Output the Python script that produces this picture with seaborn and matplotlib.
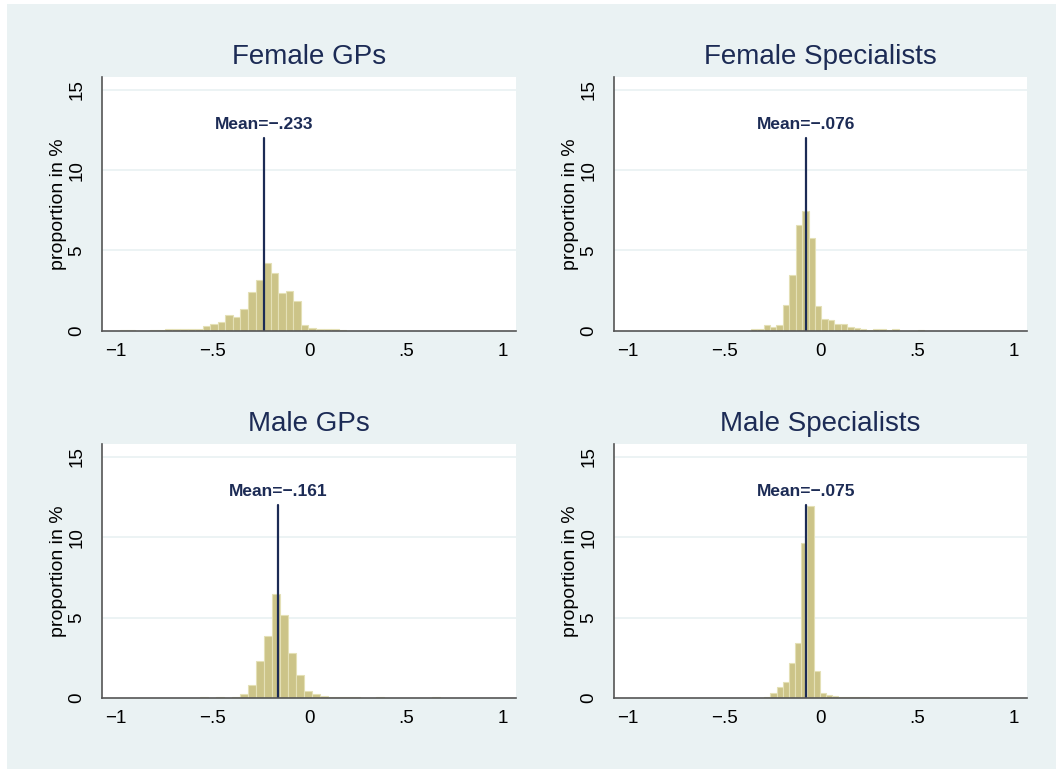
import numpy as np
import pandas as pd
import seaborn as sns
import matplotlib.pyplot as plt
from matplotlib.patches import Rectangle

# panel order: top-left, top-right, bottom-left, bottom-right
titles = ["Female GPs", "Female Specialists", "Male GPs", "Male Specialists"]
means = [-0.233, -0.076, -0.161, -0.075]

# histogram bins (left edge of first bin, bin width)
bin_starts = [-0.979, -0.3624, -0.566, -0.292]
bin_widths = [0.039, 0.0333, 0.0414, 0.0319]

# bar heights, proportion in %
female_gp = [0.04, 0.04, 0, 0, 0.04, 0.06, 0.08, 0.08, 0.125, 0.08,
             0.1, 0.29, 0.44, 0.54, 0.98, 0.875, 1.33, 2.42, 3.17, 4.23,
             3.58, 2.35, 2.46, 1.83, 0.35, 0.17, 0.1, 0.08, 0.1, 0.04]
female_spec = [0.08, 0.12, 0.375, 0.21, 0.375, 1.6, 3.48, 6.58, 7.48, 5.75,
               1.54, 0.75, 0.65, 0.40, 0.44, 0.25, 0.19, 0.12, 0.06, 0.1,
               0.1, 0.02, 0.1, 0, 0, 0, 0.06]
male_gp = [0.04, 0, 0.04, 0, 0.04, 0.23, 0.79, 2.29, 3.83, 6.44,
           5.15, 2.79, 1.44, 0.44, 0.25, 0.125, 0.06, 0.04, 0.04, 0.04,
           0, 0, 0.04, 0, 0, 0, 0, 0, 0, 0.04]
male_spec = [0.06, 0.29, 0.69, 1.02, 2.15, 3.44, 9.65, 11.94, 1.71, 0.33,
             0.19, 0.10, 0.06, 0.06, 0.05, 0.05, 0.04, 0.03, 0.03, 0.03,
             0.03, 0.03, 0.03, 0.03, 0, 0, 0, 0, 0, 0, 0.03]
heights = [female_gp, female_spec, male_gp, male_spec]

xticks = [-1, -0.5, 0, 0.5, 1]
xticklabels = ["\u22121", "\u2212.5", "0", ".5", "1"]
yticks = [0, 5, 10, 15]
yticklabels = ["0", "5", "10", "15"]

navy = "#1c2b55"
bg = "#eaf2f3"

sns.set_theme(style="white")
plt.rcParams["font.family"] = ["Liberation Sans", "DejaVu Sans"]

W, H = 1056, 769
fig = plt.figure(figsize=(W / 100, H / 100), dpi=100, facecolor="white")
fig.patches.append(Rectangle((7 / W, 0), 1, 1 - 4 / H, transform=fig.transFigure,
                             facecolor=bg, edgecolor="none", zorder=-10))

# axes boxes in pixels: left, top, right, bottom
boxes = [(102, 77, 516, 330.7), (614, 77, 1027, 330.7),
         (102, 444, 516, 698), (614, 444, 1027, 698)]

for i in range(4):
    l, t, r, b = boxes[i]
    ax = fig.add_axes([l / W, 1 - b / H, (r - l) / W, (b - t) / H])
    ax.set_facecolor("white")

    h = heights[i]
    edges = [bin_starts[i] + bin_widths[i] * k for k in range(len(h) + 1)]
    centers = [(edges[k] + edges[k + 1]) / 2 for k in range(len(h))]
    df = pd.DataFrame({"value": centers, "pct": h})
    sns.histplot(data=df, x="value", weights="pct", bins=edges, ax=ax,
                 color="#ccc488", edgecolor="#e4e0b6", linewidth=0.8,
                 alpha=1, zorder=2)

    for g in yticks[1:]:
        ax.axhline(g, color=bg, lw=1.3, zorder=1)

    m = means[i]
    ax.plot([m, m], [0, 12], color=navy, lw=1.6, zorder=3)
    lab = "Mean=" + f"{m:.3f}".replace("0.", ".").replace("-", "\u2212")
    ax.text(m, 12.85, lab, ha="center", va="center", fontsize=12.5,
            fontweight="bold", color=navy)

    ax.set_xlim(-1.07, 1.068)
    ax.set_ylim(0, 15.8)
    ax.set_xticks(xticks)
    ax.set_xticklabels(xticklabels)
    ax.set_yticks(yticks)
    ax.set_yticklabels(yticklabels, rotation=90, va="center")
    ax.tick_params(axis="both", direction="out", length=5, width=1,
                   color="#222222", labelsize=13.5, labelcolor="black")
    ax.tick_params(axis="x", pad=3.5)
    ax.tick_params(axis="y", pad=7)
    ax.set_xlabel("")
    ax.set_ylabel("proportion in %", fontsize=14, color="black", labelpad=1)

    for s in ["top", "right"]:
        ax.spines[s].set_visible(False)
    for s in ["left", "bottom"]:
        ax.spines[s].set_color("#555555")
        ax.spines[s].set_linewidth(1.2)
        ax.spines[s].set_zorder(4)

    ax.text(0.5, 1 + 20 / (b - t), titles[i], transform=ax.transAxes,
            ha="center", va="center", fontsize=20, color=navy)

fig.savefig("out.png", dpi=100, facecolor=fig.get_facecolor())
